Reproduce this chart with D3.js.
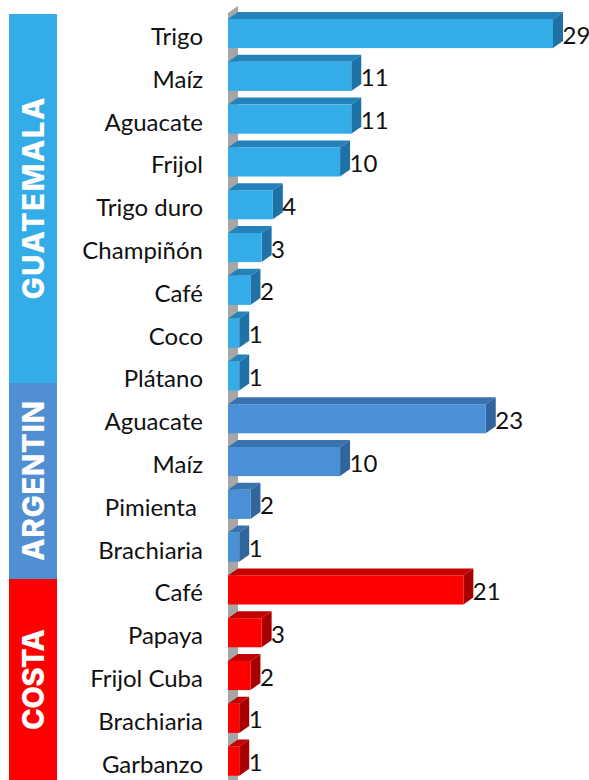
<!DOCTYPE html>
<html>
<head>
<meta charset="utf-8">
<script src="https://cdn.jsdelivr.net/npm/d3@7"></script>
<style>
  html, body { margin: 0; padding: 0; background: #fff; }
  svg { display: block; }
</style>
</head>
<body>
<div id="chart"></div>
<script>
const width = 589;
const height = 780;

// data
const crops = ["Trigo", "Maíz", "Aguacate", "Frijol", "Trigo duro", "Champiñón", "Café", "Coco", "Plátano",
               "Aguacate", "Maíz", "Pimienta ", "Brachiaria",
               "Café", "Papaya", "Frijol Cuba", "Brachiaria", "Garbanzo"];
const counts = [29, 11, 11, 10, 4, 3, 2, 1, 1,
                23, 10, 2, 1,
                21, 3, 2, 1, 1];
const country = [0, 0, 0, 0, 0, 0, 0, 0, 0,
                 1, 1, 1, 1,
                 2, 2, 2, 2, 2];
const countries = ["GUATEMALA", "ARGENTIN", "COSTA"];

// look
const front = ["#34ace8", "#4a90d6", "#ff0000"];
const top_ = ["#2382ba", "#3a72b0", "#c40000"];
const side = ["#1f72a6", "#31659e", "#a80000"];
const bandFill = ["#34ace8", "#4f8fd2", "#ff0000"];
const bandEdges = [14, 383, 579, 782];   // pixel edges of the coloured side bands
const dx = 10, dy = 7;                  // 3d depth
const font = "Lato, sans-serif";

const svg = d3.select("#chart").append("svg")
    .attr("width", width).attr("height", height);

const x = d3.scaleLinear().domain([0, 29]).range([228, 553]);
const y = d3.scaleBand().domain(d3.range(crops.length))
    .range([12.15, 782.55]).paddingInner(0.32).paddingOuter(0.16);
const bh = y.bandwidth();

// grey wall behind bars
const x0 = x(0);
svg.append("path")
    .attr("d", `M${x0},${y(0) - 6}L${x0 + dx},${y(0) - 6 - dy}L${x0 + dx},${height}L${x0},${height}Z`)
    .attr("fill", "#a6a6a6");

// bars
const g = svg.append("g");
const bar = g.selectAll("g.bar").data(counts).join("g").attr("class", "bar");

bar.append("path")
    .attr("fill", (d, i) => top_[country[i]])
    .attr("d", (d, i) => {
        const t = y(i), r = x(d);
        return `M${x0},${t}L${x0 + dx},${t - dy}L${r + dx},${t - dy}L${r},${t}Z`;
    });

bar.append("path")
    .attr("fill", (d, i) => side[country[i]])
    .attr("d", (d, i) => {
        const t = y(i), r = x(d);
        return `M${r},${t}L${r + dx},${t - dy}L${r + dx},${t + bh - dy}L${r},${t + bh}Z`;
    });

bar.append("rect")
    .attr("x", x0)
    .attr("y", (d, i) => y(i))
    .attr("width", d => x(d) - x0)
    .attr("height", bh)
    .attr("fill", (d, i) => front[country[i]]);

// value labels
bar.append("text")
    .attr("x", d => x(d) + dx - 0.5)
    .attr("y", (d, i) => y(i) + bh / 2 + 10)
    .attr("font-family", font)
    .attr("font-size", 24)
    .attr("fill", "#111")
    .text(d => d);

// category labels
svg.append("g").selectAll("text").data(crops).join("text")
    .attr("x", 203)
    .attr("y", (d, i) => y(i) + bh / 2 + 11.5)
    .attr("text-anchor", "end")
    .style("white-space", "pre")
    .attr("font-family", font)
    .attr("font-size", 24)
    .attr("fill", "#111")
    .text(d => d);

// country bands
const band = svg.append("g").selectAll("g").data(countries).join("g");
band.append("rect")
    .attr("x", 9).attr("width", 48)
    .attr("y", (d, i) => bandEdges[i])
    .attr("height", (d, i) => bandEdges[i + 1] - bandEdges[i])
    .attr("fill", (d, i) => bandFill[i]);

const titleLen = [202, 160, 101];
band.append("text")
    .attr("transform", (d, i) => `translate(43.5,${(bandEdges[i] + Math.min(bandEdges[i + 1], height)) / 2}) rotate(-90)`)
    .attr("text-anchor", "middle")
    .attr("font-family", "Inter, 'Open Sans', sans-serif")
    .attr("font-weight", 800)
    .attr("font-size", 29.5)
    .attr("fill", "#fff")
    .attr("textLength", (d, i) => titleLen[i])
    .attr("lengthAdjust", "spacing")
    .text(d => d);
</script>
</body>
</html>
